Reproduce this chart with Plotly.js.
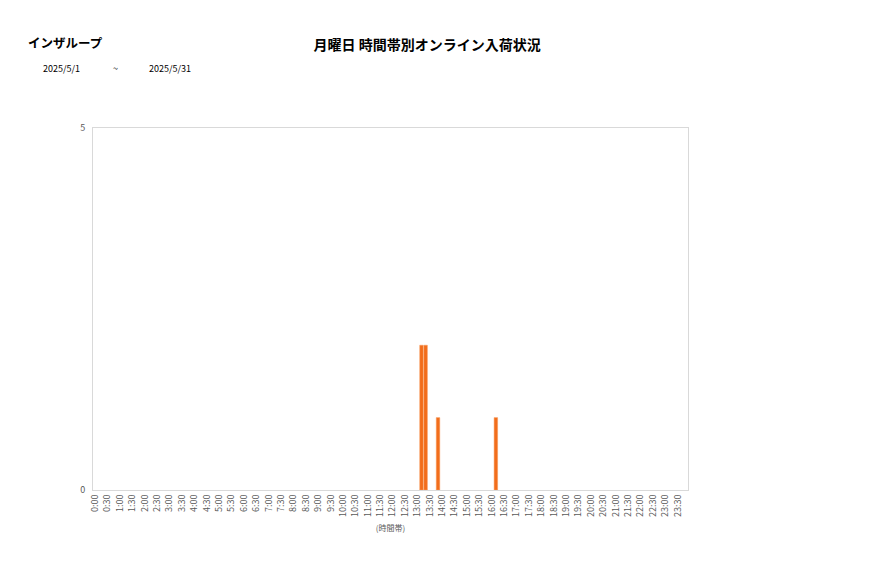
<!DOCTYPE html>
<html>
<head>
<meta charset="utf-8">
<script src="https://cdn.plot.ly/plotly-3.0.1.min.js"></script>
<style>
  html, body { margin: 0; padding: 0; background: #fff; }
  #chart { width: 877px; height: 578px; }
</style>
</head>
<body>
<div id="chart"></div>
<script>
// 10-minute slots, labelled every 30 minutes
var slots = [];
for (var h = 0; h < 24; h++) {
  for (var m = 0; m < 60; m += 10) {
    slots.push(h + ':' + (m < 10 ? '0' + m : m));
  }
}
var tickLabels = slots.filter(function (s, i) { return i % 3 === 0; });

var barTimes = ['13:10', '13:20', '13:50', '16:10'];
var barCounts = [2, 2, 1, 1];

var jp = '"Noto Sans CJK JP", "Noto Sans", sans-serif';

var trace = {
  x: barTimes,
  y: barCounts,
  type: 'bar',
  marker: { color: '#f26d1b', line: { color: '#f79a5c', width: 0.5 } },
  hoverinfo: 'x+y'
};

var layout = {
  width: 877,
  height: 578,
  margin: { l: 93, r: 189, t: 128, b: 88 },
  paper_bgcolor: '#fff',
  plot_bgcolor: '#fff',
  showlegend: false,
  bargap: 0.15,
  font: { family: jp, color: '#595959', size: 9 },
  title: {
    text: '月曜日 時間帯別オンライン入荷状況',
    font: { family: jp, size: 14, color: '#000', weight: 'bold' },
    x: 0.487, xanchor: 'center', y: 0.922, yanchor: 'middle'
  },
  xaxis: {
    type: 'category',
    categoryorder: 'array',
    categoryarray: slots,
    range: [-0.5, slots.length - 0.5],
    tickvals: tickLabels,
    ticktext: tickLabels,
    tickangle: -90,
    tickfont: { size: 9, color: '#595959' },
    ticks: '',
    showgrid: false,
    showline: true,
    linecolor: '#d9d9d9',
    mirror: true,
    zeroline: false,
    title: { text: '(時間帯)', font: { size: 8, color: '#595959' }, standoff: 9 }
  },
  yaxis: {
    range: [0, 5],
    tickvals: [0, 5],
    tickfont: { size: 9, color: '#595959' },
    ticks: '',
    ticklabelstandoff: 5,
    showgrid: false,
    showline: true,
    linecolor: '#d9d9d9',
    mirror: true,
    zeroline: false
  },
  annotations: [
    { text: 'インザループ', xref: 'paper', yref: 'paper', x: -0.113, y: 1.235,
      xanchor: 'left', yanchor: 'middle', showarrow: false,
      font: { family: jp, size: 12.5, color: '#000', weight: 'bold' } },
    { text: '2025/5/1', xref: 'paper', yref: 'paper', x: -0.088, y: 1.165,
      xanchor: 'left', yanchor: 'middle', showarrow: false,
      font: { family: jp, size: 9, color: '#000' } },
    { text: '~', xref: 'paper', yref: 'paper', x: 0.031, y: 1.165,
      xanchor: 'left', yanchor: 'middle', showarrow: false,
      font: { family: jp, size: 9, color: '#000' } },
    { text: '2025/5/31', xref: 'paper', yref: 'paper', x: 0.09, y: 1.165,
      xanchor: 'left', yanchor: 'middle', showarrow: false,
      font: { family: jp, size: 9, color: '#000' } }
  ]
};

Plotly.newPlot('chart', [trace], layout, { displayModeBar: false, staticPlot: true });
</script>
</body>
</html>
